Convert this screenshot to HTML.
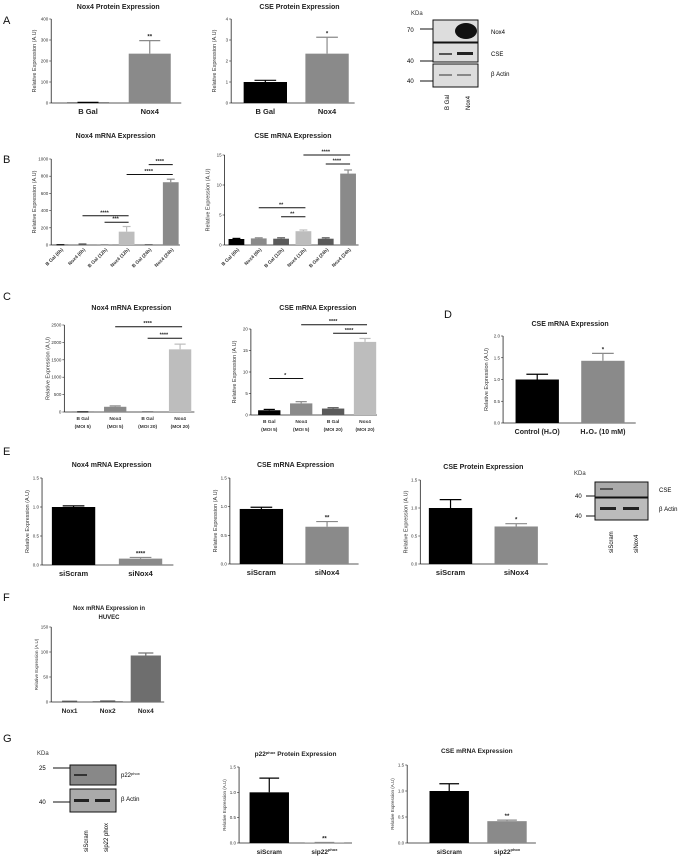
<!DOCTYPE html>
<html><head><meta charset="utf-8"><style>
html,body{margin:0;padding:0;background:#fff;}
svg{display:block;font-family:"Liberation Sans",Arial,sans-serif;}
.pl{font-size:11px;font-family:"Liberation Sans",sans-serif;}
</style></head><body>
<svg id="fig" width="683" height="856" viewBox="0 0 683 856" xmlns="http://www.w3.org/2000/svg">
<g class="pl" fill="#111">
<text x="3" y="24">A</text><text x="3" y="163">B</text><text x="3" y="300">C</text>
<text x="444" y="318">D</text><text x="3" y="455">E</text><text x="3" y="601">F</text><text x="3" y="742">G</text>
</g>
<g font-size="6">
<text x="411" y="15" fill="#333">KDa</text>
<rect x="433" y="20" width="45" height="22" fill="#ddd" stroke="#111"/>
<ellipse cx="466" cy="31" rx="11" ry="8" fill="#111"/>
<rect x="433" y="43" width="45" height="19" fill="#ddd" stroke="#111"/>
<rect x="439" y="53" width="13" height="2" fill="#555"/><rect x="457" y="52" width="16" height="3" fill="#222"/>
<rect x="433" y="64" width="45" height="23" fill="#ddd" stroke="#111"/>
<rect x="439" y="74" width="13" height="2" fill="#888"/><rect x="457" y="74" width="14" height="2" fill="#888"/>
<text x="407" y="32">70</text><line x1="420" y1="29" x2="433" y2="29" stroke="#111"/>
<text x="407" y="63">40</text><line x1="420" y1="61" x2="433" y2="61" stroke="#111"/>
<text x="407" y="83">40</text><line x1="420" y1="81" x2="433" y2="81" stroke="#111"/>
<text x="491" y="34">Nox4</text><text x="491" y="56">CSE</text><text x="491" y="76">β Actin</text>
<text transform="translate(449,110) rotate(-90)">B Gal</text>
<text transform="translate(470,110) rotate(-90)">Nox4</text>
</g>
<g font-size="6">
<text x="574" y="475" fill="#333">KDa</text>
<rect x="595" y="482" width="53" height="15" fill="#aaa" stroke="#111"/>
<rect x="600" y="488" width="13" height="2" fill="#555"/>
<rect x="595" y="498" width="53" height="22" fill="#bbb" stroke="#111"/>
<rect x="600" y="507" width="16" height="3" fill="#222"/><rect x="623" y="507" width="16" height="3" fill="#222"/>
<text x="575" y="498">40</text><line x1="586" y1="496" x2="595" y2="496" stroke="#111"/>
<text x="575" y="518">40</text><line x1="586" y1="516" x2="595" y2="516" stroke="#111"/>
<text x="659" y="492">CSE</text><text x="659" y="511">β Actin</text>
<text transform="translate(613,553) rotate(-90)">siScram</text>
<text transform="translate(638,553) rotate(-90)">siNox4</text>
</g>
<g font-size="6">
<text x="37" y="755" fill="#333">KDa</text>
<rect x="70" y="765" width="46" height="20" fill="#888" stroke="#111"/>
<rect x="74" y="774" width="13" height="2" fill="#333"/>
<rect x="70" y="789" width="46" height="23" fill="#aaa" stroke="#111"/>
<rect x="74" y="799" width="15" height="3" fill="#222"/><rect x="95" y="799" width="15" height="3" fill="#222"/>
<text x="39" y="770">25</text><line x1="53" y1="768" x2="70" y2="768" stroke="#111"/>
<text x="39" y="804">40</text><line x1="53" y1="802" x2="70" y2="802" stroke="#111"/>
<text x="121" y="777">p22<tspan font-size="4" dy="-2">phox</tspan></text><text x="121" y="801">β Actin</text>
<text transform="translate(88,852) rotate(-90)">siScram</text>
<text transform="translate(108,852) rotate(-90)">sip22 phox</text>
</g>
</svg>
<script>
// ---- Data ----
const a1Cats=["B Gal","Nox4"], a1Vals=[2,235], a1Errs=[3,297], a1Stars=["","**"], a1Ticks=[0,100,200,300,400];
const a2Cats=["B Gal","Nox4"], a2Vals=[1.0,2.35], a2Errs=[1.08,3.13], a2Stars=["","*"], a2Ticks=[0,1,2,3,4];
const b1Cats=["B Gal (6h)","Nox4 (6h)","B Gal (12h)","Nox4 (12h)","B Gal (24h)","Nox4 (24h)"], b1Vals=[2,5,2,155,2,730], b1Errs=[3,12,3,215,3,765], b1Ticks=[0,200,400,600,800,1000];
const b2Cats=["B Gal (6h)","Nox4 (6h)","B Gal (12h)","Nox4 (12h)","B Gal (24h)","Nox4 (24h)"], b2Vals=[1.0,1.1,1.05,2.3,1.05,11.9], b2Errs=[1.1,1.2,1.2,2.5,1.2,12.5], b2Ticks=[0,5,10,15];
const c1Cats=[["B Gal","(MOI 5)"],["Nox4","(MOI 5)"],["B Gal","(MOI 20)"],["Nox4","(MOI 20)"]], c1Vals=[2,150,2,1800], c1Errs=[3,175,3,1950], c1Ticks=[0,500,1000,1500,2000,2500];
const c2Cats=[["B Gal","(MOI 5)"],["Nox4","(MOI 5)"],["B Gal","(MOI 20)"],["Nox4","(MOI 20)"]], c2Vals=[1.1,2.7,1.5,17], c2Errs=[1.3,3.1,1.7,17.8], c2Ticks=[0,5,10,15,20];
const dCats=["Control (H₂O)","H₂O₂ (10 mM)"], dVals=[1.0,1.43], dErrs=[1.12,1.6], dStars=["","*"], dTicks=[0,0.5,1.0,1.5,2.0];
const e1Cats=["siScram","siNox4"], e1Vals=[1.0,0.11], e1Errs=[1.02,0.13], e1Stars=["","****"], e1Ticks=[0,0.5,1.0,1.5];
const e2Cats=["siScram","siNox4"], e2Vals=[0.96,0.65], e2Errs=[0.99,0.74], e2Stars=["","**"], e2Ticks=[0,0.5,1.0,1.5];
const e3Cats=["siScram","siNox4"], e3Vals=[1.0,0.67], e3Errs=[1.15,0.72], e3Stars=["","*"], e3Ticks=[0,0.5,1.0,1.5];
const fCats=["Nox1","Nox2","Nox4"], fVals=[1,1.5,93], fErrs=[1.5,2,98], fTicks=[0,50,100,150];
const g2Cats=["siScram","sip22"], g2Vals=[1.0,0.01], g2Errs=[1.28,0.01], g2Stars=["","**"], g2Ticks=[0,0.5,1.0,1.5];
const g3Cats=["siScram","sip22"], g3Vals=[1.0,0.42], g3Errs=[1.14,0.44], g3Stars=["","**"], g3Ticks=[0,0.5,1.0,1.5];

const SX=1.3135;
const NS="http://www.w3.org/2000/svg", svg=document.getElementById('fig');
function mk(p,t,a){const e=document.createElementNS(NS,t);for(const k in a)e.setAttribute(k,a[k]);p.appendChild(e);return e;}
function fmt(v,dec){return dec?v.toFixed(1):String(v);}
function chart(o){
  ['ax','right','c0','step','bw','tx'].forEach(k=>o[k]*=SX);
  const g=mk(svg,'g',{});
  
  
  const max=o.ticks[o.ticks.length-1];
  const y=v=>o.bot-v/max*(o.bot-o.top);
  const cx=i=>o.c0+i*o.step;
  const tl=o.title.split('|');
  tl.forEach((s,k)=>{const t=mk(g,'text',{x:o.tx,y:o.ty+k*9,'text-anchor':'middle','font-size':o.tfs||7,'font-weight':'bold',fill:'#222'});
    
    if(s.indexOf('^')>=0){const p=s.split('^');t.appendChild(document.createTextNode(p[0]));const sp=mk(t,'tspan',{'font-size':4,dy:-2});sp.textContent=p[1];const r=mk(t,'tspan',{dy:2});r.textContent=p[2]||'';}else t.textContent=s;});
  const ax=mk(g,'line',{x1:o.ax,y1:o.top,x2:o.ax,y2:o.bot,stroke:'#222','stroke-width':0.8});
  
  const xx=mk(g,'line',{x1:o.ax,y1:o.bot,x2:o.right,y2:o.bot,stroke:'#222','stroke-width':0.8});
  
  o.ticks.forEach(v=>{mk(g,'line',{x1:o.ax-2,y1:y(v),x2:o.ax,y2:y(v),stroke:'#222','stroke-width':0.6});
    const t=mk(g,'text',{x:o.ax-3,y:y(v)+1.5,'text-anchor':'end','font-size':4.5,fill:'#333'});t.textContent=fmt(v,o.dec);
    });
  const yl=mk(g,'text',{transform:`translate(${o.ax-(o.ylo||15)},${(o.top+o.bot)/2}) rotate(-90)`,'text-anchor':'middle','font-size':o.yfs||5.5,fill:'#333'});
  yl.textContent='Relative Expression (A.U)';
  
  o.vals.forEach((v,i)=>{
    const c=cx(i),col=o.colors[i];
    const r=mk(g,'rect',{x:c-o.bw/2,y:y(v),width:o.bw,height:o.bot-y(v),fill:col});
    
    const e=o.errs[i];
    mk(g,'line',{x1:c,y1:y(v),x2:c,y2:y(e),stroke:col,'stroke-width':1.2});
    mk(g,'line',{x1:c-o.bw*0.25,y1:y(e),x2:c+o.bw*0.25,y2:y(e),stroke:col,'stroke-width':1.2});
    if(o.stars&&o.stars[i]){const s=mk(g,'text',{x:c,y:y(e)-2,'text-anchor':'middle','font-size':6,'font-weight':'bold',fill:'#222'});s.textContent=o.stars[i];
      }
    const cat=o.cats[i];
    if(o.xmode==='rot'){const t=mk(g,'text',{transform:`translate(${c+3},${o.bot+5}) rotate(-45)`,'text-anchor':'end','font-size':4.8,'font-weight':'bold',fill:'#333'});t.textContent=cat;
      }
    else if(Array.isArray(cat)){cat.forEach((s,k)=>{const t=mk(g,'text',{x:c,y:o.bot+8+k*8,'text-anchor':'middle','font-size':4.8,'font-weight':'bold',fill:'#333'});t.textContent=s;
      });}
    else{const t=mk(g,'text',{x:c,y:o.bot+11,'text-anchor':'middle','font-size':o.xfs||7.5,'font-weight':'bold',fill:'#222'});
      if(o.supLast&&i===o.cats.length-1){t.textContent=cat;const sp=mk(t,'tspan',{'font-size':4,dy:-3});sp.textContent='phox';}else t.textContent=cat;
      }
  });
  (o.sig||[]).forEach(s=>{const yy=y(s[2]);
    const l=mk(g,'line',{x1:cx(s[0]),y1:yy,x2:cx(s[1])+2,y2:yy,stroke:'#111','stroke-width':1});
    
    const t=mk(g,'text',{x:(cx(s[0])+cx(s[1]))/2,y:yy-1.5,'text-anchor':'middle','font-size':5.5,'font-weight':'bold',fill:'#222'});t.textContent=s[3];});
}
const BK='#000',GR='#8a8a8a',DG='#5a5a5a',LG='#bdbdbd';
chart({name:'chart-a-nox4-protein',title:'Nox4 Protein Expression',tx:90,ty:9,ax:39,top:19,bot:103,right:138,ticks:a1Ticks,cats:a1Cats,vals:a1Vals,errs:a1Errs,stars:a1Stars,c0:67,step:47,bw:32,colors:[BK,GR]});
chart({name:'chart-a-cse-protein',title:'CSE Protein Expression',tx:228,ty:9,ax:176,top:19,bot:103,right:270,ticks:a2Ticks,cats:a2Cats,vals:a2Vals,errs:a2Errs,stars:a2Stars,c0:202,step:47,bw:33,colors:[BK,GR]});
chart({name:'chart-b-nox4-mrna',title:'Nox4 mRNA Expression',tx:88,ty:138,ax:39,top:159,bot:245,right:137,ticks:b1Ticks,cats:b1Cats,vals:b1Vals,errs:b1Errs,c0:46,step:16.8,bw:12,colors:[BK,DG,GR,LG,DG,GR],xmode:'rot',
  sig:[[1,3,340,'****'],[2,3,265,'***'],[3,5,820,'****'],[4,5,935,'****']]});
chart({name:'chart-b-cse-mrna',title:'CSE mRNA Expression',tx:223,ty:138,ax:171,top:155,bot:245,right:273,ticks:b2Ticks,cats:b2Cats,vals:b2Vals,errs:b2Errs,c0:180,step:17,bw:12,colors:[BK,GR,DG,LG,DG,GR],xmode:'rot',
  sig:[[1,3,6.2,'**'],[2,3,4.7,'**'],[3,5,15,'****'],[4,5,13.5,'****']]});
chart({name:'chart-c-nox4-mrna',title:'Nox4 mRNA Expression',tx:100,ty:310,ax:49,top:325,bot:412,right:148,ticks:c1Ticks,cats:c1Cats,vals:c1Vals,errs:c1Errs,c0:63,step:24.7,bw:17,colors:[BK,GR,DG,LG],
  sig:[[1,3,2450,'****'],[2,3,2120,'****']]});
chart({name:'chart-c-cse-mrna',title:'CSE mRNA Expression',tx:242,ty:310,ax:191,top:329,bot:415,right:287,ticks:c2Ticks,cats:c2Cats,vals:c2Vals,errs:c2Errs,c0:205,step:24.3,bw:17,colors:[BK,GR,DG,LG],
  sig:[[0,1,8.5,'*'],[1,3,21,'****'],[2,3,19,'****']]});
chart({name:'chart-d-cse-mrna',title:'CSE mRNA Expression',tx:434,ty:326,ax:383,top:336,bot:423,right:484,ticks:dTicks,dec:true,cats:dCats,vals:dVals,errs:dErrs,stars:dStars,c0:409,step:50,bw:33,colors:[BK,GR],xfs:7});
chart({name:'chart-e-nox4-mrna',title:'Nox4 mRNA Expression',tx:85,ty:467,ax:32,top:478,bot:565,right:132,ticks:e1Ticks,dec:true,cats:e1Cats,vals:e1Vals,errs:e1Errs,stars:e1Stars,c0:56,step:51,bw:33,colors:[BK,GR],ylo:13});
chart({name:'chart-e-cse-mrna',title:'CSE mRNA Expression',tx:225,ty:467,ax:175,top:478,bot:564,right:273,ticks:e2Ticks,dec:true,cats:e2Cats,vals:e2Vals,errs:e2Errs,stars:e2Stars,c0:199,step:50,bw:33,colors:[BK,GR],ylo:13});
chart({name:'chart-e-cse-protein',title:'CSE Protein Expression',tx:368,ty:469,ax:320,top:480,bot:564,right:417,ticks:e3Ticks,dec:true,cats:e3Cats,vals:e3Vals,errs:e3Errs,stars:e3Stars,c0:343,step:50,bw:33,colors:[BK,GR],ylo:13});
chart({name:'chart-f-nox-huvec',title:'Nox mRNA Expression in|HUVEC',tfs:6,tx:83,ty:610,ax:39,top:627,bot:702,right:125,ticks:fTicks,cats:fCats,vals:fVals,errs:fErrs,c0:53,step:29,bw:23,colors:[DG,DG,'#6e6e6e'],xfs:6.5,ylo:13,yfs:4.5});
chart({name:'chart-g-p22-protein',title:'p22^phox^ Protein Expression',tfs:6.5,tx:225,ty:756,ax:182,top:767,bot:843,right:268,ticks:g2Ticks,dec:true,cats:g2Cats,vals:g2Vals,errs:g2Errs,stars:g2Stars,c0:205,step:42,bw:30,colors:[BK,GR],xfs:6.5,supLast:true,ylo:13,yfs:4.5});
chart({name:'chart-g-cse-mrna',title:'CSE mRNA Expression',tfs:6.5,tx:363,ty:753,ax:310,top:765,bot:843,right:408,ticks:g3Ticks,dec:true,cats:g3Cats,vals:g3Vals,errs:g3Errs,stars:g3Stars,c0:342,step:44,bw:30,colors:[BK,GR],xfs:6.5,supLast:true,ylo:13,yfs:4.5});
</script>
</body></html>
